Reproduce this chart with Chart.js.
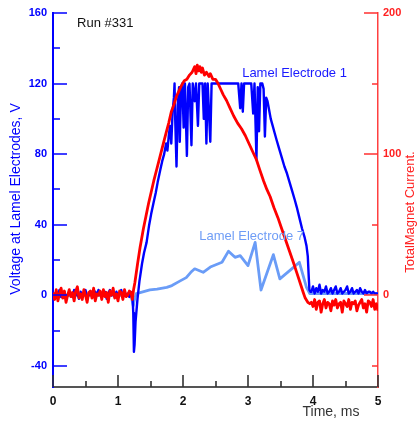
<!DOCTYPE html>
<html>
<head>
<meta charset="utf-8">
<script src="https://cdn.jsdelivr.net/npm/chart.js@4/dist/chart.umd.min.js"></script>
<style>
  html, body { margin: 0; padding: 0; background: #fff; }
  canvas { display: block; }
</style>
</head>
<body>
<canvas id="chart" width="417" height="421"></canvas>
<script>
const FONT = '"Liberation Sans", Arial, Helvetica, sans-serif';

// Tick marks / labels
const timeTicks = [0, 1, 2, 3, 4, 5];
const timeMinorTicks = [0.5, 1.5, 2.5, 3.5, 4.5];
const voltTicks = [-40, 0, 40, 80, 120, 160];
const voltMinorTicks = [-20, 20, 60, 100, 140];
const currentTicks = [0, 100, 200];
const currentMinorTicks = [-50, 50, 150];

// Sample times of the quiet baseline before and after the pulse (ms)
const baseTimesBefore = [
  0, 0.025, 0.05, 0.075, 0.1, 0.125, 0.15, 0.175,
  0.2, 0.225, 0.25, 0.275, 0.3, 0.325, 0.35, 0.375,
  0.4, 0.425, 0.45, 0.475, 0.5, 0.525, 0.55, 0.575,
  0.6, 0.625, 0.65, 0.675, 0.7, 0.725, 0.75, 0.775,
  0.8, 0.825, 0.85, 0.875, 0.9, 0.925, 0.95, 0.975,
  1.0, 1.025, 1.05, 1.075, 1.1, 1.125, 1.15, 1.175
];
const baseTimesAfter = [
  3.975, 4.0, 4.025, 4.05, 4.075, 4.1, 4.125, 4.15,
  4.175, 4.2, 4.225, 4.25, 4.275, 4.3, 4.325, 4.35,
  4.375, 4.4, 4.425, 4.45, 4.475, 4.5, 4.525, 4.55,
  4.575, 4.6, 4.625, 4.65, 4.675, 4.7, 4.725, 4.75,
  4.775, 4.8, 4.825, 4.85, 4.875, 4.9, 4.925, 4.95,
  4.975, 5.0
];

// Lamel Electrode 1 (V)
const e1VoltsBefore = [
  1, -1, 2, 0, 3, -1, 1, 2,
  -2, 0, 2, 1, -1, 3, 0, 1,
  -2, 2, 0, 1, 3, -1, 0, 2,
  1, -1, 2, 0, 3, 1, -1, 0,
  2, -2, 1, 3, 0, 1, -1, 2,
  0, 1, 3, -1, 2, 0, 1, -1
];
const e1PulseTimes = [
  1.2, 1.22, 1.235, 1.245, 1.255, 1.27, 1.30, 1.33, 1.37, 1.40,
  1.44, 1.48, 1.51, 1.55, 1.58, 1.61, 1.65, 1.68, 1.71, 1.74,
  1.76, 1.78, 1.80, 1.82, 1.84, 1.86, 1.87, 1.88, 1.90, 1.92,
  1.94, 1.95, 1.97, 1.99, 2.01, 2.03, 2.06, 2.08, 2.10, 2.13,
  2.15, 2.18, 2.20, 2.23, 2.25, 2.30, 2.32, 2.34, 2.36, 2.38,
  2.42, 2.44, 2.55, 2.70, 2.85, 2.88, 2.90, 2.92, 2.94, 3.05,
  3.08, 3.10, 3.13, 3.15, 3.17, 3.19, 3.22, 3.24, 3.26, 3.28,
  3.30, 3.32, 3.35, 3.38, 3.41, 3.44, 3.48, 3.52, 3.56, 3.60,
  3.64, 3.68, 3.72, 3.75, 3.79, 3.83, 3.87, 3.90, 3.92, 3.935,
  3.945, 3.96
];
const e1PulseVolts = [
  1, 2, -10, -32, -28, -15, -2, 8, 18, 24,
  30, 40, 46, 53, 58, 64, 71, 76, 80, 86,
  82, 90, 96, 86, 104, 112, 120, 100, 73, 108,
  118, 87, 116, 120, 95, 120, 79, 118, 120, 85,
  120, 110, 120, 96, 120, 120, 100, 120, 86, 120,
  87, 120, 120, 120, 120, 106, 120, 104, 120, 120,
  103, 120, 77, 118, 93, 120, 120, 117, 90, 112,
  110, 106, 100, 96, 92, 88, 83, 78, 73, 69,
  64, 59, 54, 50, 44, 38, 33, 28, 22, 10,
  3, 2
];
const e1VoltsAfter = [
  2, 5, 1, 4, 2, 6, 1, 3,
  2, 5, 1, 2, 4, 1, 3, 5,
  1, 2, 4, 1, 2, 3, 5, 1,
  2, 4, 1, 2, 3, 1, 4, 2,
  1, 3, 1, 2, 2, 1, 2, 1,
  1, 1
];

// Lamel Electrode 7 (V)
const e7Times = [
  0, 1.2, 1.235, 1.25, 1.28, 1.34, 1.49, 1.6, 1.75, 1.83,
  1.95, 2.05, 2.12, 2.18, 2.31, 2.42, 2.6, 2.70, 2.80, 2.88,
  3.0, 3.11, 3.2, 3.39, 3.49, 3.70, 3.79, 3.9, 3.95, 5.0
];
const e7Volts = [
  0, 0, -6, -3, 1, 1.5, 3, 3.5, 4.5, 5.5,
  8, 10, 13, 15, 13, 16, 18.7, 25, 21.5, 22.5,
  16.8, 30, 3, 23, 9.3, 15.8, 18.7, 4.5, 1, 1
];

// Total magnet current (right axis)
const currentBefore = [
  2, -3, 4, -4, 1, 5, -2, 3,
  -5, 0, 4, -1, 2, -4, 3, 6,
  -2, 1, -3, 4, 0, -5, 2, 3,
  -2, 5, -4, 1, 0, 3, -3, 4,
  -1, 2, -5, 3, 0, 5, -2, 1,
  -4, 3, 2, -3, 4, -1, 0, 3
];
const currentPulseTimes = [
  1.2, 1.22, 1.24, 1.26, 1.30, 1.34, 1.39, 1.43, 1.47, 1.51,
  1.55, 1.60, 1.65, 1.70, 1.74, 1.78, 1.82, 1.86, 1.90, 1.94,
  1.98, 2.02, 2.06, 2.10, 2.14, 2.18, 2.20, 2.22, 2.24, 2.26,
  2.28, 2.30, 2.33, 2.36, 2.40, 2.42, 2.46, 2.50, 2.54, 2.58,
  2.62, 2.67, 2.72, 2.78, 2.84, 2.90, 2.96, 3.02, 3.08, 3.13,
  3.18, 3.24, 3.29, 3.34, 3.40, 3.46, 3.52, 3.58, 3.64, 3.70,
  3.75, 3.80, 3.85, 3.88, 3.92, 3.95
];
const currentPulse = [
  2, -3, 4, 9, 22, 34, 47, 56, 65, 73,
  81, 90, 99, 108, 115, 122, 130, 135, 141, 145,
  149, 152, 153, 156, 158, 162, 157, 163, 159, 162,
  158, 161, 156, 158, 155, 157, 153, 153, 150, 146,
  142, 138, 133, 127, 122, 118, 113, 107, 101, 96,
  89, 81, 75, 70, 62, 55, 47, 39, 31, 23,
  16, 9, 2, -2, -5, -6
];
const currentAfter = [
  -5, -8, -3, -10, -5, -4, -12, -6,
  -3, -9, -5, -6, -11, -4, -7, -3,
  -9, -6, -5, -12, -4, -6, -8, -3,
  -10, -5, -6, -4, -11, -7, -5, -3,
  -9, -6, -12, -4, -5, -8, -3, -10,
  -6, -11
];

function toPoints(times, values) {
  return times.map((t, i) => ({ x: t, y: values[i] }));
}

const electrode1 = toPoints(
  baseTimesBefore.concat(e1PulseTimes, baseTimesAfter),
  e1VoltsBefore.concat(e1PulseVolts, e1VoltsAfter)
);
const electrode7 = toPoints(e7Times, e7Volts);
const magnetCurrent = toPoints(
  baseTimesBefore.concat(currentPulseTimes, baseTimesAfter),
  currentBefore.concat(currentPulse, currentAfter)
);

// Text placed in the plot, positioned in data units
const notes = [
  { text: 'Run #331', x: 0.37, y: 154, color: '#111111' },
  { text: 'Lamel Electrode 1', x: 2.91, y: 126, color: '#1a1aff' },
  { text: 'Lamel Electrode 7', x: 2.25, y: 33.4, color: '#6f9df6' }
];

// Draws inward tick marks, the axis titles and the in-plot labels
const axisDecor = {
  id: 'axisDecor',
  afterDraw(chart) {
    const ctx = chart.ctx;
    const area = chart.chartArea;
    const { x, y, y2 } = chart.scales;
    ctx.save();
    ctx.lineWidth = 1.6;

    const vTicks = (scale, values, x0, len, color) => {
      ctx.strokeStyle = color;
      ctx.beginPath();
      values.forEach(v => {
        const py = Math.round(scale.getPixelForValue(v));
        ctx.moveTo(x0, py);
        ctx.lineTo(x0 + len, py);
      });
      ctx.stroke();
    };
    vTicks(y, voltTicks, area.left, 14, '#0000ff');
    vTicks(y, voltMinorTicks, area.left, 7, '#0000ff');
    vTicks(y2, currentTicks, area.right, -14, '#ff3030');
    vTicks(y2, currentMinorTicks, area.right, -6, '#ff3030');

    ctx.strokeStyle = '#333333';
    ctx.beginPath();
    timeTicks.concat(timeMinorTicks).forEach(v => {
      const px = Math.round(x.getPixelForValue(v));
      const len = timeTicks.includes(v) ? 12 : 6;
      ctx.moveTo(px, area.bottom);
      ctx.lineTo(px, area.bottom - len);
    });
    ctx.stroke();

    // axis titles
    ctx.textBaseline = 'middle';
    ctx.textAlign = 'center';
    ctx.font = '14px ' + FONT;
    ctx.fillStyle = '#0000ff';
    ctx.save();
    ctx.translate(16, 199);
    ctx.rotate(-Math.PI / 2);
    ctx.fillText('Voltage at Lamel Electrodes, V', 0, 0);
    ctx.restore();

    ctx.font = '13px ' + FONT;
    ctx.fillStyle = '#ff2020';
    ctx.save();
    ctx.translate(410, 212);
    ctx.rotate(-Math.PI / 2);
    ctx.fillText('TotalMagnet Current.', 0, 0);
    ctx.restore();

    ctx.font = '14px ' + FONT;
    ctx.fillStyle = '#333333';
    ctx.fillText('Time, ms', 331, 412);

    // labels inside the plot
    ctx.textAlign = 'left';
    ctx.font = '13px ' + FONT;
    notes.forEach(n => {
      ctx.fillStyle = n.color;
      ctx.fillText(n.text, x.getPixelForValue(n.x), y.getPixelForValue(n.y));
    });
    ctx.restore();
  }
};

Chart.defaults.font.family = FONT;

new Chart(document.getElementById('chart'), {
  type: 'line',
  data: {
    datasets: [
      { label: 'TotalMagnet Current', data: magnetCurrent, yAxisID: 'y2',
        borderColor: '#ff0000', borderWidth: 2.8 },
      { label: 'Lamel Electrode 1', data: electrode1, yAxisID: 'y',
        borderColor: '#0000ff', borderWidth: 2.4 },
      { label: 'Lamel Electrode 7', data: electrode7, yAxisID: 'y',
        borderColor: '#6a9cf7', borderWidth: 2.8 }
    ]
  },
  options: {
    responsive: false,
    animation: false,
    devicePixelRatio: 1,
    layout: { padding: { top: 13, left: 0, right: 0, bottom: 0 } },
    elements: {
      point: { radius: 0 },
      line: { tension: 0, borderJoinStyle: 'round', fill: false }
    },
    plugins: {
      legend: { display: false },
      tooltip: { enabled: false }
    },
    scales: {
      x: {
        type: 'linear',
        position: 'bottom',
        min: 0,
        max: 5,
        grid: { display: false, drawTicks: false },
        border: { display: true, color: '#555555', width: 2 },
        ticks: { padding: 7, color: '#111111', font: { size: 12, weight: 'bold' }, autoSkip: false, maxRotation: 0 },
        afterBuildTicks: s => { s.ticks = timeTicks.map(v => ({ value: v })); },
        afterFit: s => { s.height = 34; }
      },
      y: {
        position: 'left',
        min: -52,
        max: 160,
        grid: { display: false, drawTicks: false },
        border: { display: true, color: '#0000ff', width: 2 },
        ticks: { padding: 6, color: '#0000ff', font: { size: 11, weight: 'bold' } },
        afterBuildTicks: s => { s.ticks = voltTicks.map(v => ({ value: v })); },
        afterFit: s => { s.width = 53; }
      },
      y2: {
        position: 'right',
        min: -65,
        max: 200,
        grid: { display: false, drawTicks: false },
        border: { display: true, color: '#ff4040', width: 1.5 },
        ticks: { padding: 5, color: '#ff2020', font: { size: 11, weight: 'bold' } },
        afterBuildTicks: s => { s.ticks = currentTicks.map(v => ({ value: v })); },
        afterFit: s => { s.width = 39; }
      }
    }
  },
  plugins: [axisDecor]
});
</script>
</body>
</html>
